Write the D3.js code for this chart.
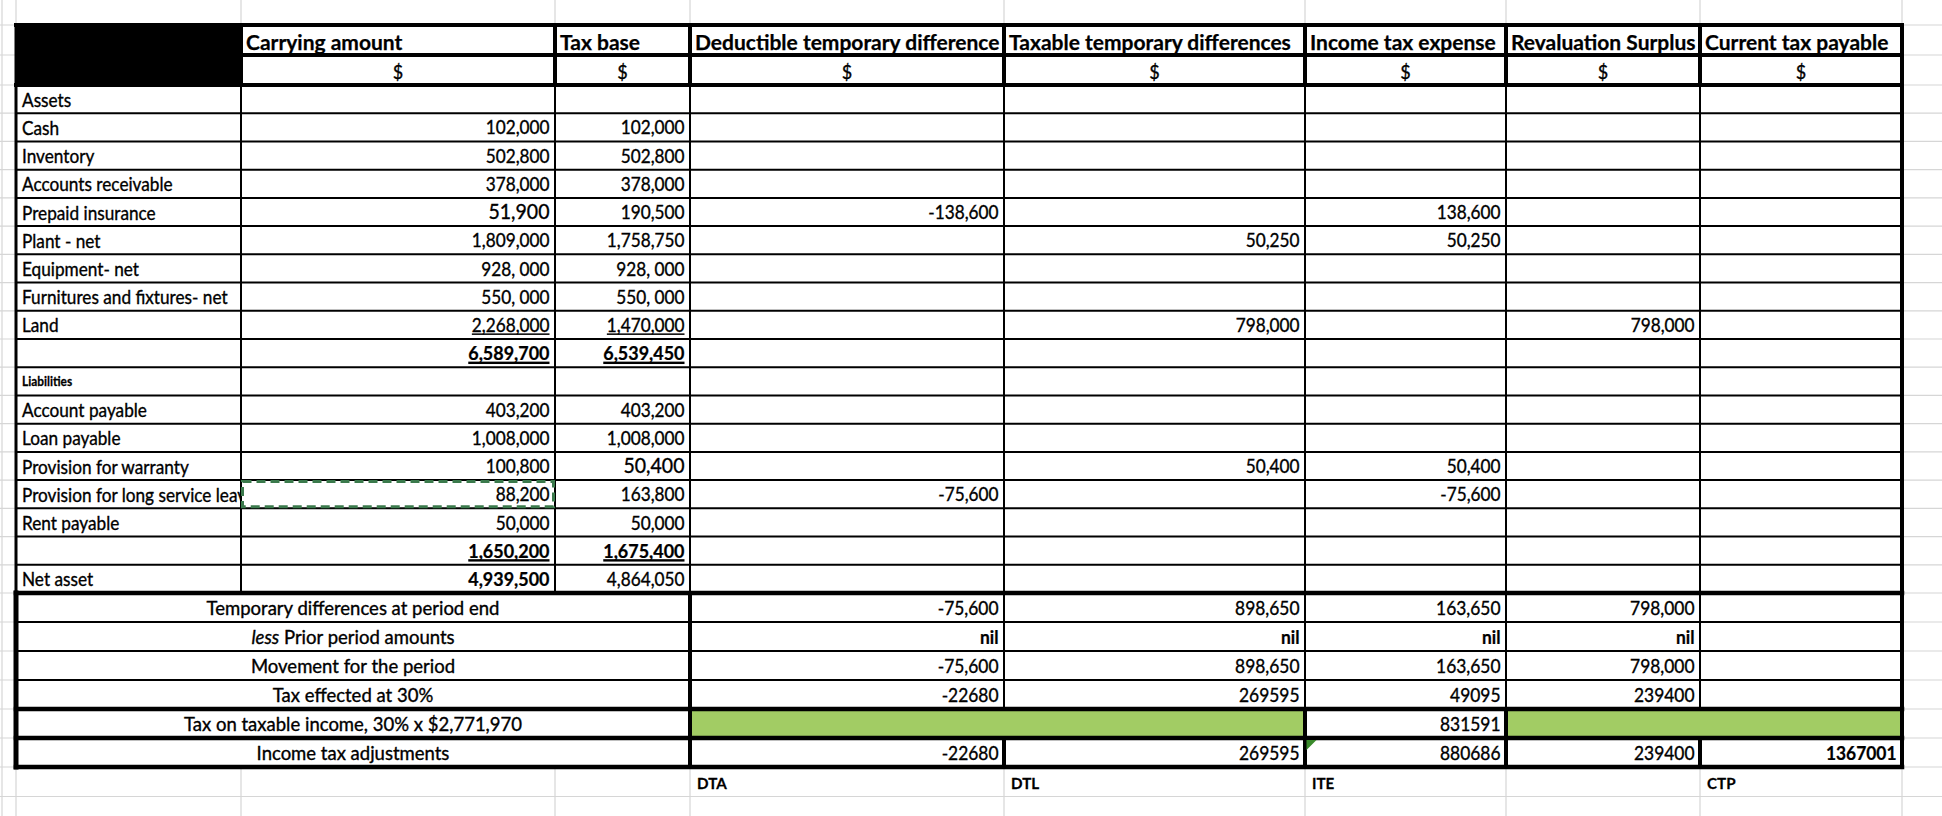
<!DOCTYPE html>
<html><head><meta charset="utf-8">
<script src="https://cdn.jsdelivr.net/npm/d3@7"></script>
<style>html,body{margin:0;padding:0;background:#fff;overflow:hidden}</style>
</head><body><svg id="c" width="1942" height="816"></svg>
<script>
// ---------------- DATA ----------------
const columnHeaders = ["Carrying amount","Tax base","Deductible temporary difference","Taxable temporary differences","Income tax expense","Revaluation Surplus","Current tax payable"];
const currencyUnits = ["$","$","$","$","$","$","$"];
const rowLabels = ["Assets","Cash","Inventory","Accounts receivable","Prepaid insurance","Plant - net","Equipment- net","Furnitures and fixtures- net","Land","","Liabilities","Account payable","Loan payable","Provision for warranty","Provision for long service leave","Rent payable","","Net asset"];
const carryingAmount = [null,102000,502800,378000,51900,1809000,928000,550000,2268000,6589700,null,403200,1008000,100800,88200,50000,1650200,4939500];
const taxBase = [null,102000,502800,378000,190500,1758750,928000,550000,1470000,6539450,null,403200,1008000,50400,163800,50000,1675400,4864050];
const deductibleTD = [null,null,null,null,-138600,null,null,null,null,null,null,null,null,null,-75600,null,null,null];
const taxableTD = [null,null,null,null,null,50250,null,null,798000,null,null,null,null,50400,null,null,null,null];
const incomeTaxExpense = [null,null,null,null,138600,50250,null,null,null,null,null,null,null,50400,-75600,null,null,null];
const revaluationSurplus = [null,null,null,null,null,null,null,null,798000,null,null,null,null,null,null,null,null,null];
const summaryLabels = ["Temporary differences at period end","less Prior period amounts","Movement for the period","Tax effected at 30%","Tax on taxable income, 30% x $2,771,970","Income tax adjustments"];
const summaryDTA = [-75600,"nil",-75600,-22680,null,-22680];
const summaryDTL = [898650,"nil",898650,269595,null,269595];
const summaryITE = [163650,"nil",163650,49095,831591,880686];
const summaryReval = [798000,"nil",798000,239400,null,239400];
const summaryCTP = [null,null,null,null,null,1367001];
const footerTags = ["DTA","DTL","ITE","","CTP"];

// ---------------- LAYOUT ----------------
const W = 1942, H = 816;
const FONT = "Lato, 'Open Sans', sans-serif";
const colX = d3.scaleOrdinal().domain(d3.range(9)).range([16,241,555,690,1004,1305,1506,1700,1902]);
const yHead = d3.scaleLinear().domain([0,2]).range([25,85]);
const yBody = d3.scaleLinear().domain([0,rowLabels.length]).range([85,593]);
const ySum = d3.scaleLinear().domain([0,summaryLabels.length]).range([593,767]);
const yFoot = d3.scaleLinear().domain([0,1]).range([767,796.5]);
const GREEN = "#a2cc64";

const svg = d3.select("#c");
svg.append("rect").attr("width",W).attr("height",H).attr("fill","#fff");

// gray spreadsheet grid
const gridCols = [2].concat(d3.range(9).map(colX));
const gridRows = [yHead(0),yHead(1),yHead(2)]
  .concat(d3.range(1,rowLabels.length+1).map(yBody))
  .concat(d3.range(1,summaryLabels.length+1).map(ySum))
  .concat([yFoot(1)]);
const g0 = svg.append("g").attr("stroke","#d6d6d6").attr("stroke-width",1.2);
g0.selectAll("line.v").data(gridCols).join("line").attr("x1",d=>d).attr("x2",d=>d).attr("y1",0).attr("y2",H);
g0.selectAll("line.h").data(gridRows).join("line").attr("x1",0).attr("x2",W).attr("y1",d=>d).attr("y2",d=>d);

// table background
svg.append("rect").attr("x",colX(0)).attr("y",yHead(0)).attr("width",colX(8)-colX(0)).attr("height",ySum(6)-yHead(0)).attr("fill","#fff");
// black header corner
svg.append("rect").attr("x",colX(0)).attr("y",yHead(0)).attr("width",colX(1)-colX(0)).attr("height",yHead(2)-yHead(0)).attr("fill","#000");
// green merged cells
svg.append("rect").attr("x",colX(3)).attr("y",ySum(4)).attr("width",colX(5)-colX(3)).attr("height",ySum(5)-ySum(4)).attr("fill",GREEN);
svg.append("rect").attr("x",colX(6)).attr("y",ySum(4)).attr("width",colX(8)-colX(6)).attr("height",ySum(5)-ySum(4)).attr("fill",GREEN);

// clip for label column
svg.append("clipPath").attr("id","labclip").append("rect").attr("x",colX(0)).attr("y",0).attr("width",colX(1)-colX(0)-1).attr("height",H);

const tg = svg.append("g").attr("font-family",FONT).attr("fill","#000");
const labG = tg.append("g").attr("clip-path","url(#labclip)");
function txt(x,y,s,o){
  o=o||{};
  const parent = o.parent || tg;
  const t = parent.append("text").attr("x",x).attr("y",y).text(s)
    .attr("font-size",o.size||18.5).attr("font-weight",o.bold?"bold":"normal")
    .attr("text-anchor",o.anchor||"start")
    .attr("stroke","#000").attr("stroke-width",o.bold?0.25:0.35);
  if(o.italic) t.attr("font-style","italic");
  if(o.sx){ t.attr("transform",`translate(${x},${y}) scale(${o.sx},1) translate(${-x},${-y})`); }
  if(o.underline){
    const w = t.node().getComputedTextLength()*(o.sx||1);
    const x0 = o.anchor==="end"? x-w : (o.anchor==="middle"? x-w/2 : x);
    parent.append("rect").attr("x",x0).attr("y",y+1.4).attr("width",w).attr("height",o.bold?2.4:1.5).attr("fill","#000");
  }
  return t;
}

// headers
columnHeaders.forEach((h,i)=>txt(colX(i+1)+5,yHead(1)-5.5,h,{bold:true,size:21,sx:1.0}));
currencyUnits.forEach((h,i)=>txt((colX(i+1)+colX(i+2))/2,yHead(2)-6,h,{anchor:"middle",size:19,sx:0.95}));

// body labels
rowLabels.forEach((l,r)=>{
  if(!l) return;
  const liab = l==="Liabilities";
  txt(22,yBody(r+1)-(liab?9:6.5),l,{bold:liab,size:liab?12.5:18.5,sx:liab?0.95:0.93,parent:labG});
});

// body numbers
const fmt = d3.format(",");
const bodyCols = [carryingAmount,taxBase,deductibleTD,taxableTD,incomeTaxExpense,revaluationSurplus];
const bigCells = new Set(["4-0","13-1"]);
const spacedCells = new Set(["6-0","6-1","7-0","7-1"]);
bodyCols.forEach((arr,ci)=>{
  arr.forEach((v,r)=>{
    if(v==null) return;
    let s = fmt(v).replace("−","-");
    if(spacedCells.has(r+"-"+ci)) s = s.replace(/,/g,", ");
    const total = (r===9||r===16);
    const bold = total || (r===17 && ci===0);
    const underline = ci<2 && (total || r===8);
    const big = bigCells.has(r+"-"+ci);
    txt(colX(ci+2)-5.5,yBody(r+1)-7,s,{anchor:"end",bold:bold,underline:underline,
      size:big?21:18.5,sx:big?0.93:(bold?0.97:0.93)});
  });
});

// summary labels
summaryLabels.forEach((l,r)=>{
  const cx = (colX(0)+colX(3))/2, y = ySum(r+1)-7;
  if(l.startsWith("less ")){
    const t = txt(cx,y,"",{anchor:"middle",sx:1.0});
    t.append("tspan").attr("font-style","italic").text("less");
    t.append("tspan").text("  "+l.slice(5));
  } else txt(cx,y,l,{anchor:"middle",sx:1.0});
});
const plainRows = new Set([3,4,5]);
[summaryDTA,summaryDTL,summaryITE,summaryReval,summaryCTP].forEach((arr,ci)=>{
  arr.forEach((v,r)=>{
    if(v==null) return;
    const isNil = v==="nil";
    const s = isNil? "nil" : (plainRows.has(r)? String(v) : fmt(v).replace("−","-"));
    txt(colX(ci+4)-5.5,ySum(r+1)-7,s,{anchor:"end",bold:isNil||ci===4,sx:0.94});
  });
});

// footer tags
footerTags.forEach((t,i)=>{ if(t) txt(colX(i+3)+7,yFoot(1)-7,t,{bold:true,size:16,sx:0.95}); });

// ---------------- BORDERS ----------------
const bg = svg.append("g").attr("stroke","#000").attr("stroke-linecap","square");
function ln(x1,y1,x2,y2,w){ bg.append("line").attr("x1",x1).attr("y1",y1).attr("x2",x2).attr("y2",y2).attr("stroke-width",w); }
// body horizontals
d3.range(1,rowLabels.length).forEach(r=>ln(colX(0),yBody(r),colX(8),yBody(r),2));
// body verticals
d3.range(1,8).forEach(c=>ln(colX(c),yBody(0),colX(c),yBody(rowLabels.length),2));
ln(colX(0),yHead(0),colX(0),yBody(rowLabels.length),3);
// header
ln(colX(0),yHead(0),colX(8),yHead(0),4);
ln(colX(1),yHead(1),colX(8),yHead(1),4);
ln(colX(0),yHead(2),colX(8),yHead(2),4);
d3.range(1,8).forEach(c=>ln(colX(c),yHead(0),colX(c),yHead(2),4));
// summary
ln(colX(0),ySum(0),colX(8),ySum(0),4.5);
[1,2,3].forEach(r=>ln(colX(0),ySum(r),colX(8),ySum(r),2));
[4,5,6].forEach(r=>ln(colX(0),ySum(r),colX(8),ySum(r),4.5));
ln(colX(0),ySum(0),colX(0),ySum(6),5);
ln(colX(3),ySum(0),colX(3),ySum(6),4);
[4,5,6,7].forEach(c=>ln(colX(c),ySum(0),colX(c),ySum(4),2));
ln(colX(5),ySum(4),colX(5),ySum(5),4);
ln(colX(6),ySum(4),colX(6),ySum(5),4);
[4,5,6,7].forEach(c=>ln(colX(c),ySum(5),colX(c),ySum(6),4));
// right outer border
ln(colX(8),yHead(0),colX(8),ySum(6),4);

// copy marquee (dashed) on carrying amount of long service leave row
svg.append("rect").attr("x",colX(1)+1.5).attr("y",yBody(14)+1.5).attr("width",colX(2)-colX(1)-3).attr("height",yBody(15)-yBody(14)-3)
  .attr("fill","none").attr("stroke","#3b7a4c").attr("stroke-width",3).attr("stroke-dasharray","9,5");
// error indicator triangle
svg.append("path").attr("d",`M${colX(5)+1.5},${ySum(5)+2} h10 L${colX(5)+1.5},${ySum(5)+12} Z`).attr("fill","#3a8a2c");
</script></body></html>
